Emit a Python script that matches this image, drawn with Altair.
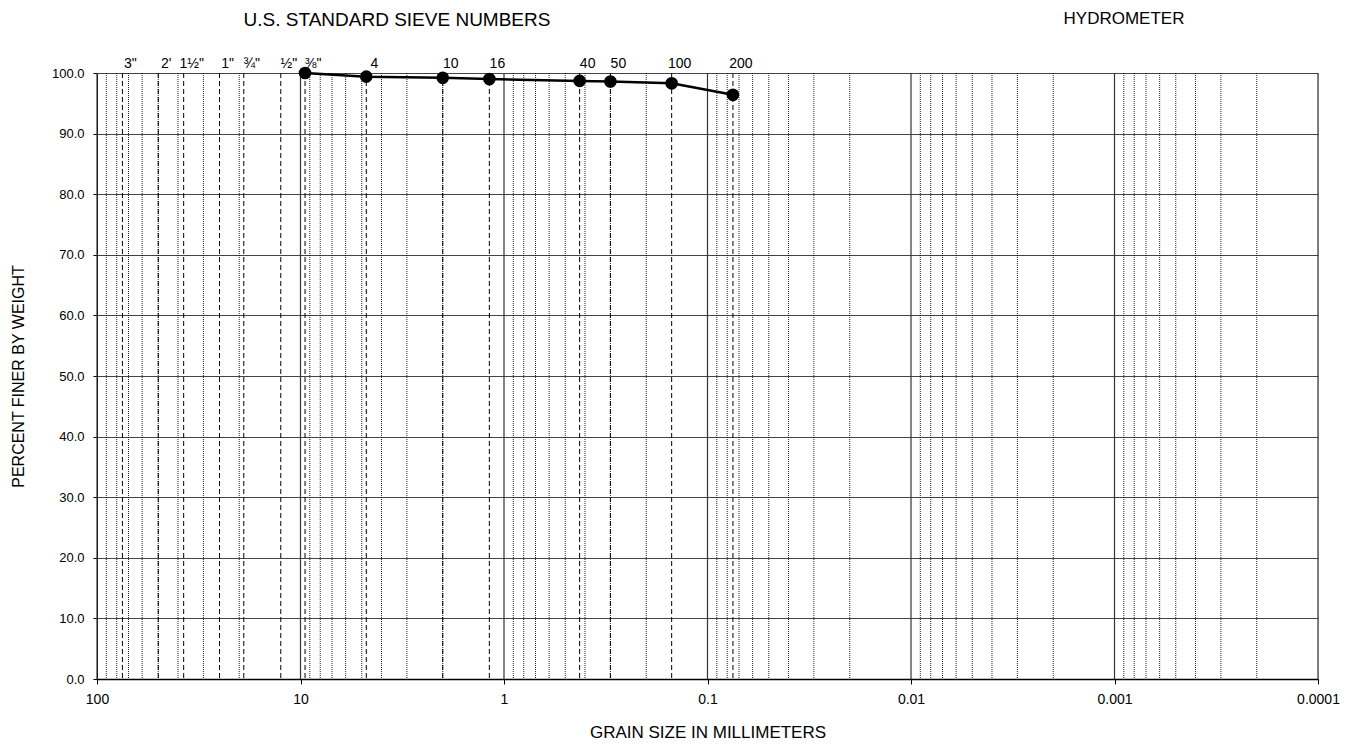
import altair as alt
import pandas as pd

# ---- data ----
sieve_labels = ['3"', "2'", '1½"', '1"', '¾"', '½"', '⅜"', '4', '10', '16', '40', '50', '100', '200']
sieve_sizes_mm = [75, 50, 37.5, 25, 19, 12.5, 9.5, 4.75, 2.0, 1.18, 0.425, 0.3, 0.15, 0.075]

test_sizes_mm = [9.5, 4.75, 2.0, 1.18, 0.425, 0.3, 0.15, 0.075]
percent_finer = [100.0, 99.4, 99.2, 99.0, 98.7, 98.6, 98.3, 96.4]

decades = [100, 10, 1, 0.1, 0.01, 0.001, 0.0001]
minor_multipliers = [2, 3, 4, 5, 6, 7, 8, 9]
y_ticks = [0, 10, 20, 30, 40, 50, 60, 70, 80, 90, 100]

FONT = "Liberation Sans"

minor_lines = pd.DataFrame({
    "x": [round(m * d, 6) for d in decades[1:] for m in minor_multipliers]
})
decade_lines = pd.DataFrame({"x": decades})
sieve_df = pd.DataFrame({"x": sieve_sizes_mm, "label": sieve_labels})
test_df = pd.DataFrame({"x": test_sizes_mm, "y": percent_finer})

x_scale = alt.Scale(type="log", domain=[0.0001, 100], reverse=True, nice=False)
y_scale = alt.Scale(domain=[0, 100], nice=False)

x_axis = alt.Axis(
    values=decades, format="~g", grid=False, domain=True, domainColor="black",
    domainWidth=1.5, ticks=True, tickColor="black", tickSize=5,
    labelFont=FONT, labelFontSize=14, labelColor="black", labelPadding=8,
    labelFlush=False, labelOverlap=False,
    title="GRAIN SIZE IN MILLIMETERS", titleFont=FONT, titleFontSize=17,
    titleFontWeight="normal", titleColor="black", titleY=53,
    titleBaseline="middle",
)
y_axis = alt.Axis(
    values=y_ticks, format=".1f", grid=True, gridColor="#444444", gridWidth=1,
    domain=True, domainColor="black", ticks=True, tickColor="black", tickSize=4,
    labelFont=FONT, labelFontSize=13, labelColor="black", labelPadding=9,
    labelFlush=False, labelOverlap=False,
    title="PERCENT FINER BY WEIGHT", titleFont=FONT, titleFontSize=16,
    titleFontWeight="normal", titleColor="black", titleAngle=270,
    titleX=-79, titleY=303, titleAlign="center", titleBaseline="middle",
)

X = alt.X("x:Q", scale=x_scale, axis=x_axis, title="GRAIN SIZE IN MILLIMETERS")
Y = alt.Y("y:Q", scale=y_scale, axis=y_axis, title="PERCENT FINER BY WEIGHT")

minor = alt.Chart(minor_lines).mark_rule(
    color="black", strokeWidth=1, strokeDash=[1, 1], opacity=0.85
).encode(x=X)

decade = alt.Chart(decade_lines).mark_rule(
    color="#333333", strokeWidth=1.2
).encode(x=X)

sieve_rules = alt.Chart(sieve_df).mark_rule(
    color="black", strokeWidth=1, strokeDash=[5, 3]
).encode(x=X)

sieve_text = alt.Chart(sieve_df).mark_text(
    font=FONT, fontSize=14, color="black", baseline="middle", align="center", dx=8
).encode(
    x=X,
    y=alt.value(-9),
    text="label:N",
)

line = alt.Chart(test_df).mark_line(color="black", strokeWidth=2.5).encode(x=X, y=Y)

points = alt.Chart(test_df).mark_point(
    filled=True, color="black", size=160, opacity=1
).encode(x=X, y=Y)

title1 = alt.Chart(pd.DataFrame({"t": ["U.S. STANDARD SIEVE NUMBERS"]})).mark_text(
    font=FONT, fontSize=19, color="black", align="center", baseline="middle"
).encode(x=alt.value(300), y=alt.value(-53), text="t:N")

title2 = alt.Chart(pd.DataFrame({"t": ["HYDROMETER"]})).mark_text(
    font=FONT, fontSize=17, color="black", align="center", baseline="middle"
).encode(x=alt.value(1027), y=alt.value(-54), text="t:N")

chart = alt.layer(
    minor, decade, sieve_rules, line, points, sieve_text, title1, title2
).properties(
    width=1221, height=606,
    autosize=alt.AutoSizeParams(type="none"),
    padding={"left": 89, "top": 65, "right": 32, "bottom": 63},
).configure_view(stroke="black", strokeWidth=1.5).configure(background="white")

chart.save("out.html", embed_options={"renderer": "svg", "actions": False})
